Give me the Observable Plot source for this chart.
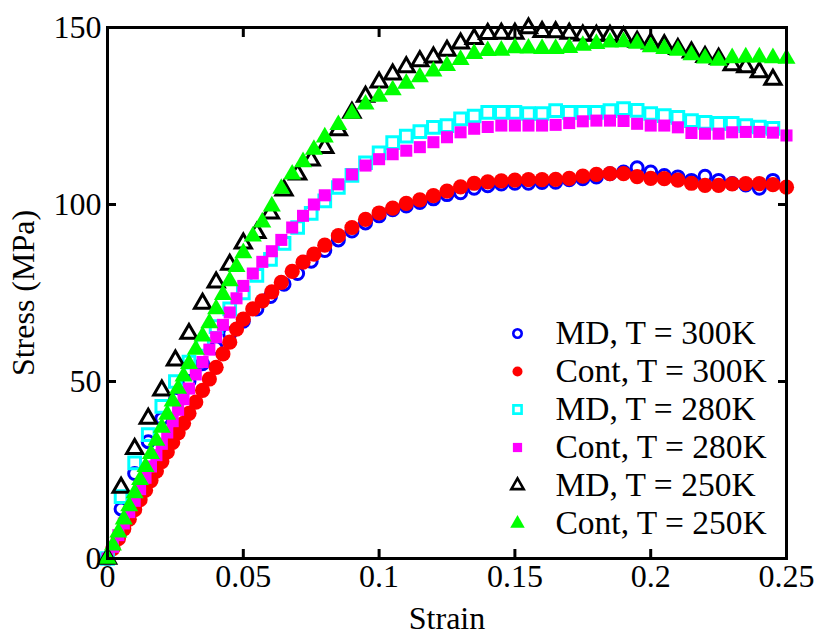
<!DOCTYPE html>
<html><head><meta charset="utf-8">
<script src="https://cdn.jsdelivr.net/npm/d3@7"></script>
<script src="https://cdn.jsdelivr.net/npm/@observablehq/plot@0.6"></script>
<style>
body{margin:0;background:#fff}
#chart svg, #chart svg text { font-family: "Liberation Serif", "Times New Roman", serif !important; }
</style>
</head><body><div id="chart"></div>
<script>
const xTicks = [0, 0.05, 0.1, 0.15, 0.2, 0.25];
const yTicks = [0, 50, 100, 150];
const seriesNames = ["MD, T = 300K", "Cont, T = 300K", "MD, T = 280K", "Cont, T = 280K", "MD, T = 250K", "Cont, T = 250K"];

const mdStrain = [0,0.005,0.01,0.015,0.02,0.025,0.03,0.035,0.04,0.045,0.05,0.055,0.06,0.065,0.07,0.075,0.08,0.085,0.09,0.095,0.1,0.105,0.11,0.115,0.12,0.125,0.13,0.135,0.14,0.145,0.15,0.155,0.16,0.165,0.17,0.175,0.18,0.185,0.19,0.195,0.2,0.205,0.21,0.215,0.22,0.225,0.23,0.235,0.24,0.245];
const md300 = [0,14,24,33,39.5,45,50,55,59.5,63.5,67,70.5,74,77.5,80.5,84,87,90,92.5,94.8,96.8,98.5,99.6,100.6,101.6,102.8,103.3,104.6,105.3,105.8,106,106,106.2,106.3,107,107.3,107.8,108.7,109.2,110.4,109.2,108.2,107.8,106.8,108,106.8,105.9,105.5,104.6,106.8];
const md280 = [0,17.5,27,35,43,50,55.5,60.5,65.5,70.5,75,80,84.5,89,93.5,97.5,101,104.8,108.2,111.8,114.6,117.5,119.3,120.6,121.8,122.3,124.2,125,126,126,126,125.7,125.7,126.5,126,126,126,126.5,127.1,126.6,125.7,125.1,124.6,123.7,123.2,122.9,122.9,122.3,121.9,121.5];
const md250 = [0,20,31,39.5,47.5,56,63.5,72,78,83,89,92,97.5,104,108.5,112.5,116,121,126,130.5,134.5,136.8,138.8,140.5,141.6,143.5,145.5,146.8,148.2,148.3,148.3,149.8,148.8,148.7,148.3,147.8,147.7,147.7,147.3,146,145.5,145,144,143,141.7,141.2,139.4,138.8,137.4,135.3];

const contStrain = [0,0.002,0.004,0.006,0.008,0.01,0.012,0.014,0.016,0.018,0.02,0.022,0.024,0.026,0.028,0.03,0.0325,0.035,0.0375,0.04,0.0425,0.045,0.0475,0.05,0.0535,0.057,0.0605,0.064,0.068,0.072,0.076,0.08,0.085,0.09,0.095,0.1,0.105,0.11,0.115,0.12,0.125,0.13,0.135,0.14,0.145,0.15,0.155,0.16,0.165,0.17,0.175,0.18,0.185,0.19,0.195,0.2,0.205,0.21,0.215,0.22,0.225,0.23,0.235,0.24,0.245,0.25];
const cont300 = [0,2.8,5.6,8.4,11.1,13.8,16.6,19.3,22,24.7,27.4,30.1,32.8,35.5,38.2,41,44.2,47.5,50.7,54,57.8,61.1,64.8,67.6,70.5,72.8,75.3,78,81.1,83.7,86,88.5,91.2,93.5,95.8,97.6,99,100.3,101.3,102.5,103.8,105,106,106.4,106.7,106.9,107,107,107.1,107.4,108,108.5,108.7,108.7,107.9,107.4,107.3,106.9,106,105.4,105.4,105.8,105.9,105.9,105.6,104.9];
const cont280 = [0,3.3,6.6,9.9,13.1,16.3,19.6,22.8,26,29.2,32.4,35.6,38.8,42,45,48,52,55.5,59,62.5,66,69.5,73.5,77,80.5,83.8,86.8,90,93.5,96.8,100,102.6,105.7,108.5,111,112.8,114.2,115.2,116.2,117.6,119,120.4,121.4,121.9,122.3,122.3,122.3,122.3,122.5,123,123.5,123.7,123.7,123.6,122.8,122.3,122.3,121.8,120.2,120,120,120.4,120.5,120.5,120.3,119.5];
const cont250 = [0,3.7,7.4,11.1,14.8,18.5,22.2,25.9,29.6,33.3,37,40.7,44.4,48,51.5,55,59,62.8,66.5,70.5,74.5,78.4,82.4,86.3,91,95,99.5,104.5,108.5,112,115.5,119,122.5,125.7,128.3,130.5,132.3,134.2,136,137.6,139.2,140.9,142.6,143.4,143.5,144.2,144.1,144,144,144.3,144.9,145.4,145.8,145.9,145.5,144.5,144,143.5,142.2,141.3,140.7,141.4,141.6,141.6,141.4,141.2];

const toRows = (xs, ys) => xs.map((x, i) => ({x, y: ys[i]}));

const styles = [
  {data: toRows(mdStrain, md300), symbol: "circle", r: 6, fill: "none", stroke: "#0000ff", strokeWidth: 3, lr: 4.2},
  {data: toRows(contStrain, cont300), symbol: "circle", r: 7.6, fill: "#ff0000", stroke: "none", strokeWidth: 0, lr: 5},
  {data: toRows(mdStrain, md280), symbol: "square", r: 6.6, fill: "none", stroke: "#00ffff", strokeWidth: 3, lr: 4.6},
  {data: toRows(contStrain, cont280), symbol: "square", r: 6.8, fill: "#ff00ff", stroke: "none", strokeWidth: 0, lr: 5.2},
  {data: toRows(mdStrain, md250), symbol: "triangle", r: 6, fill: "none", stroke: "#000000", strokeWidth: 3, lr: 4.6},
  {data: toRows(contStrain, cont250), symbol: "triangle", r: 6.7, fill: "#00ff00", stroke: "none", strokeWidth: 0, lr: 5.4}
];

const font = "Liberation Serif";
const marks = [];
for (const s of styles) {
  marks.push(Plot.dot(s.data, {x: "x", y: "y", symbol: () => s.symbol, r: s.r, fill: s.fill, stroke: s.stroke, strokeWidth: s.strokeWidth}));
}
styles.forEach((s, i) => {
  marks.push(Plot.dot([0], {frameAnchor: "top-left", dx: 410, dy: 306 + 38 * i, symbol: () => s.symbol, r: s.lr, fill: s.fill, stroke: s.stroke, strokeWidth: s.strokeWidth > 0 ? 2.6 : 0}));
  marks.push(Plot.text([seriesNames[i]], {frameAnchor: "top-left", dx: 448, dy: 306 + 38 * i, text: d => d, textAnchor: "start", lineAnchor: "middle", fontSize: 33.5, fontFamily: font, fill: "black"}));
});

marks.push(Plot.frame({strokeWidth: 3, stroke: "black"}));
marks.push(Plot.axisX(xTicks, {anchor: "bottom", tickSize: -9, tickPadding: 15, strokeWidth: 3, tickFormat: d => String(d), label: "Strain", labelAnchor: "center", labelOffset: 70, labelArrow: "none", fontSize: 32, fontFamily: font}));
marks.push(Plot.axisX(xTicks, {anchor: "top", tickSize: -9, strokeWidth: 3, tickFormat: () => "", label: null}));
marks.push(Plot.axisY(yTicks, {anchor: "left", tickSize: -9, tickPadding: 15, strokeWidth: 3, tickFormat: d => String(d), label: "Stress (MPa)", labelAnchor: "center", labelOffset: 96, labelArrow: "none", fontSize: 32, fontFamily: font}));
marks.push(Plot.axisY(yTicks, {anchor: "right", tickSize: -9, strokeWidth: 3, tickFormat: () => "", label: null}));

const chart = Plot.plot({
  width: 823, height: 634,
  marginLeft: 107, marginRight: 37, marginTop: 27, marginBottom: 76,
  x: {domain: [0, 0.25]},
  y: {domain: [0, 150]},
  style: {fontFamily: font, fontSize: "32px", background: "white", color: "black"},
  marks
});
document.getElementById("chart").appendChild(chart);
</script>
</body></html>
